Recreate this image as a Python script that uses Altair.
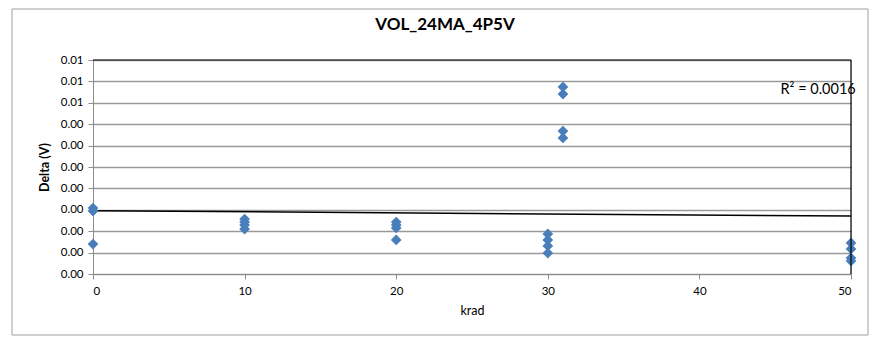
import altair as alt
import pandas as pd

# ---- data ----
krad = [0, 0, 0,
        10, 10, 10, 10,
        20, 20, 20, 20,
        30, 30, 30, 30,
        31, 31, 31, 31,
        50, 50, 50, 50]
delta = [0.00008, -0.00006, -0.00160,
         -0.00043, -0.00057, -0.00071, -0.00090,
         -0.00057, -0.00071, -0.00085, -0.00141,
         -0.00113, -0.00141, -0.00169, -0.00202,
         0.00574, 0.00541, 0.00368, 0.00336,
         -0.00155, -0.00183, -0.00225, -0.00239]
y_ticks = [-0.003, -0.002, -0.001, 0.0, 0.001, 0.002, 0.003, 0.004, 0.005, 0.006, 0.007]
x_ticks = [0, 10, 20, 30, 40, 50]
title_text = ["VOL_24MA_4P5V"]
r2_label = ["R² = 0.0016"]
r2_pos_x = [45.35]
r2_pos_y = [0.0056]

df = pd.DataFrame({"krad": krad, "delta": delta})
ann = pd.DataFrame({"krad": r2_pos_x, "delta": r2_pos_y, "t": r2_label})
ttl = pd.DataFrame({"t": title_text})

FONT = "Lato"
W, H = 758, 214

xscale = alt.Scale(domain=[0, 50], nice=False, zero=False)
yscale = alt.Scale(domain=[-0.003, 0.007], nice=False, zero=False)

xaxis = alt.Axis(values=x_ticks, title="krad", grid=False, domainColor="#8c8c8c",
                 tickColor="#8c8c8c", tickSize=5, labelFontSize=11.5, labelFont=FONT,
                 labelColor="#000000", labelPadding=6, labelOverlap=False,
                 titleFont=FONT, titleFontSize=12.5,
                 titleFontWeight="normal", titleColor="#000000", titlePadding=8)
yaxis = alt.Axis(values=y_ticks, title="Delta (V)",
                 labelExpr="format(abs(datum.value), '.2f')", labelOverlap=False,
                 grid=True, gridColor="#9a9a9a", gridWidth=1.4,
                 domainColor="#8c8c8c", tickColor="#8c8c8c", tickSize=5,
                 labelFontSize=11.5, labelFont=FONT, labelColor="#000000", labelPadding=5,
                 titleFont=FONT, titleFontSize=12.5, titleFontWeight="bold",
                 titleColor="#000000", titlePadding=9)

X = alt.X("krad:Q", scale=xscale, axis=xaxis)
Y = alt.Y("delta:Q", scale=yscale, axis=yaxis)

base = alt.Chart(df)

one = pd.DataFrame({"a": [0]})
frame = alt.Chart(one).mark_rect(
    filled=False, stroke="#a0a0a0", strokeWidth=1
).encode(x=alt.value(-81), x2=alt.value(775), y=alt.value(-51), y2=alt.value(275))

top_rule = alt.Chart(one).mark_rule(color="black", strokeWidth=1.2).encode(
    x=alt.value(0), x2=alt.value(W), y=alt.value(0))
right_rule = alt.Chart(one).mark_rule(color="black", strokeWidth=1.2).encode(
    x=alt.value(W), y=alt.value(0), y2=alt.value(H))

trend = base.transform_regression("krad", "delta", extent=[0, 50]).mark_line(
    color="black", strokeWidth=1.5
).encode(x=X, y=Y)

points = base.mark_point(shape="diamond", filled=True, size=115, color="#4a7ebb", opacity=1).encode(
    x=X, y=Y)

label = alt.Chart(ann).mark_text(align="left", baseline="middle", font=FONT, fontSize=14.5,
                                 color="#000000", clip=False).encode(
    x=X, y=Y, text="t:N")

title = alt.Chart(ttl).mark_text(align="center", baseline="middle", font=FONT, fontSize=17,
                                 fontWeight="bold", color="#000000").encode(
    x=alt.value(352), y=alt.value(-35), text="t:N")

chart = alt.layer(frame, trend, points, top_rule, right_rule, label, title).properties(
    width=W, height=H,
    autosize=alt.AutoSizeParams(type="none"),
    padding={"left": 85, "top": 52, "right": 18, "bottom": 62},
).configure_view(fill="#E6ECEC", stroke=None).configure(background="white")

chart.save("out.html", embed_options={"renderer": "svg", "actions": False})
